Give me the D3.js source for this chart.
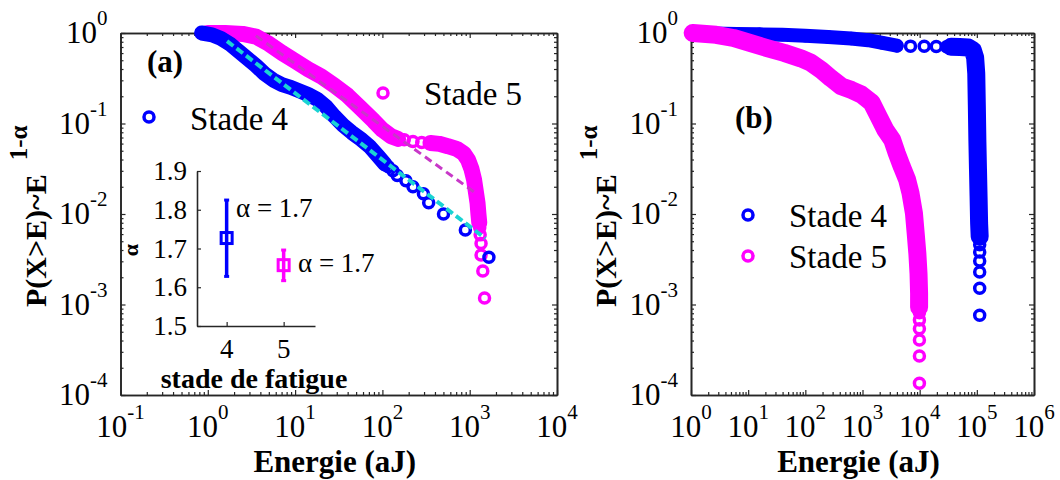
<!DOCTYPE html>
<html><head><meta charset="utf-8">
<script src="https://cdn.jsdelivr.net/npm/d3@7"></script>
<style>body{margin:0;background:#fff} svg{display:block}</style>
</head><body>
<svg id="c" width="1060" height="480"></svg>
<script>
// ---------- DATA ----------
// Panel (a): [Energie (aJ), P(X>E)]
const stade4A_band = [[0.851,1],[1.12,0.955],[1.41,0.871],[1.78,0.759],[2.24,0.631],[2.82,0.525],[3.55,0.437],[4.47,0.355],[5.62,0.302],[7.08,0.269],[8.91,0.251],[11.2,0.229],[14.1,0.209],[17.8,0.186],[22.4,0.155],[28.2,0.120],[35.5,0.0955],[44.7,0.0794],[56.2,0.0676],[70.8,0.0562],[89.1,0.0437],[107,0.0355]];
const stade4A_tail = [[117,0.0333],[132,0.0300],[148,0.0267],[186,0.0233],[224,0.0200],[295,0.0167],[339,0.0133],[501,0.0100],[891,0.00667],[1660,0.00333]];
const stade5A_band = [[1.0,1.0],[1.58,1.0],[2.51,0.977],[3.55,0.912],[5.01,0.759],[7.08,0.603],[10.0,0.490],[14.1,0.398],[20.0,0.331],[28.2,0.263],[39.8,0.204],[56.2,0.148],[79.4,0.107],[100,0.0851],[126,0.0724],[151,0.0676]];
const stade5A_plateau = [[178,0.0661],[224,0.0631],[282,0.0617]];
const stade5A_band2 = [[355,0.0610],[447,0.0596],[562,0.0562],[708,0.0525],[851,0.0468],[955,0.0398],[1047,0.0316],[1122,0.0240],[1175,0.0178],[1230,0.0132],[1259,0.0100],[1288,0.00794]];
const stade5A_tail = [[1303,0.00706],[1318,0.00588],[1349,0.00471],[1349,0.00353],[1413,0.00235],[1479,0.00118]];
const fit4A = [[1.66,0.813],[1514,0.00537]];
const fit5A = [[3.55,0.933],[1175,0.0170]];

// Panel (b)
const stade4B_band = [[1.07,1.0],[2.51,0.989],[6.31,0.977],[15.8,0.966],[39.8,0.955],[100,0.933],[251,0.902],[631,0.871],[1259,0.832],[2239,0.776],[3981,0.724]];
const stade4B_mid = [[6918,0.716],[12020,0.713],[19500,0.710],[29510,0.706]];
const stade4B_band2 = [[35480,0.705],[50120,0.700],[70790,0.692],[85110,0.646],[93330,0.537],[97720,0.355],[100000,0.158],[102300,0.0631],[104700,0.0316],[107200,0.0158],[109600,0.00794],[112200,0.00562]];
const stade4B_tail = [[112200,0.00457],[112200,0.00380],[112200,0.00302],[112200,0.00229],[112200,0.00151],[112200,0.000759]];
const stade5B_band = [[1.07,1.0],[2.75,0.955],[5.50,0.881],[10.7,0.776],[21.4,0.682],[42.7,0.603],[83.2,0.525],[126,0.468],[191,0.389],[282,0.316],[427,0.257],[646,0.234],[955,0.209],[1445,0.170],[1905,0.120],[2512,0.0851],[3311,0.0661],[3981,0.0468],[4898,0.0331],[6026,0.0240],[6918,0.0170],[7943,0.0102],[8511,0.00617],[9120,0.00363],[9550,0.00219],[9772,0.00132],[9772,0.000933]];
const stade5B_tail = [[9900,0.000811],[9900,0.000676],[9900,0.000540],[9900,0.000405],[9900,0.000270],[9900,0.000135]];

// Inset: alpha vs stade de fatigue
const insetStade = [4, 5];
const insetAlpha = [1.727, 1.657];
const insetLow = [1.628, 1.617];
const insetHigh = [1.825, 1.696];
const insetLabels = ["\u03b1 = 1.7", "\u03b1 = 1.7"];
const insetYTicks = [1.5, 1.6, 1.7, 1.8, 1.9];
const insetXTicks = [4, 5];

// Tick labels
const xTicksA = [0.1, 1, 10, 100, 1000, 10000];
const xExpA = ["-1", "0", "1", "2", "3", "4"];
const xTicksB = [1, 10, 100, 1000, 1e4, 1e5, 1e6];
const xExpB = ["0", "1", "2", "3", "4", "5", "6"];
const yTicks = [1, 0.1, 0.01, 0.001, 0.0001];
const yExp = ["0", "-1", "-2", "-3", "-4"];
const legendNames = ["Stade 4", "Stade 5"];

// ---------- DRAWING ----------
const svg = d3.select("#c");
const FONT = "'Liberation Serif','Times New Roman',serif";
const BLUE = "#0000ff", MAG = "#ff00ff", CYAN = "#1ad3d3", AX = "#262626";
const MR = 5, MW = 3.5;

function minorVals(lo, hi) {
  const out = [];
  for (let e = Math.round(Math.log10(lo)); e < Math.round(Math.log10(hi)); e++)
    for (let k = 2; k < 10; k++) out.push(k * Math.pow(10, e));
  return out;
}

function makePanel(cfg) {
  const x = d3.scaleLog().domain(cfg.xDomain).range([cfg.x0, cfg.x1]);
  const y = d3.scaleLog().domain([1e-4, 1]).range([cfg.y1, cfg.y0]);
  const g = svg.append("g");
  const xm = minorVals(cfg.xDomain[0], cfg.xDomain[1]);
  const ym = minorVals(1e-4, 1);
  const axes = [
    [d3.axisBottom(x), `translate(0,${cfg.y1})`, cfg.xTicks, xm],
    [d3.axisTop(x), `translate(0,${cfg.y0})`, cfg.xTicks, xm],
    [d3.axisLeft(y), `translate(${cfg.x0},0)`, yTicks, ym],
    [d3.axisRight(y), `translate(${cfg.x1},0)`, yTicks, ym]
  ];
  axes.forEach(([ax, tr, maj, min]) => {
    const a1 = g.append("g").attr("transform", tr)
      .call(ax.tickValues(maj).tickSize(-5).tickSizeOuter(0).tickFormat(""));
    const a2 = g.append("g").attr("transform", tr)
      .call(ax.tickValues(min).tickSize(-3).tickSizeOuter(0).tickFormat(""));
    [a1, a2].forEach(a => {
      a.selectAll("path.domain").attr("stroke", AX).attr("stroke-width", 1.6);
      a.selectAll("line").attr("stroke", AX).attr("stroke-width", 1.2);
    });
  });
  cfg.xTicks.forEach((v, i) => {
    const t = g.append("text").attr("y", 437).attr("font-family", FONT)
      .attr("font-size", 31).attr("fill", "#000");
    t.append("tspan").text("10");
    t.append("tspan").attr("dy", -18).attr("font-size", 21).text(cfg.xExp[i]);
    const w = t.node().getComputedTextLength();
    t.attr("x", x(v) - w / 2);
  });
  yTicks.forEach((v, i) => {
    const t = g.append("text").attr("y", y(v) + 10).attr("font-family", FONT)
      .attr("font-size", 31).attr("fill", "#000");
    t.append("tspan").text("10");
    t.append("tspan").attr("dy", -18).attr("font-size", 21).text(yExp[i]);
    const w = t.node().getComputedTextLength();
    t.attr("x", cfg.x0 - 13 - w);
  });
  g.append("text").attr("x", (cfg.x0 + cfg.x1) / 2 - 4).attr("y", 472)
    .attr("text-anchor", "middle").attr("font-family", FONT).attr("font-weight", "bold")
    .attr("font-size", 31).text("Energie (aJ)");
  const yl = g.append("text").attr("transform", `translate(${cfg.x0 - 75},307) rotate(-90)`)
    .attr("font-family", FONT).attr("font-weight", "bold").attr("font-size", 30);
  yl.append("tspan").text("P(X>E)~E");
  yl.append("tspan").attr("dx", 14).attr("dy", -19).attr("font-size", 25).text("1-\u03b1");
  return {g, x, y};
}

function drawSeries(p, bands, widths, pts, color) {
  const line = d3.line().x(d => p.x(d[0])).y(d => p.y(d[1]));
  bands.forEach((b, i) => {
    p.g.append("path").attr("d", line(b)).attr("fill", "none").attr("stroke", color)
      .attr("stroke-width", widths[i]).attr("stroke-linecap", "round").attr("stroke-linejoin", "round");
  });
  p.g.append("g").selectAll("circle").data(pts).enter().append("circle")
    .attr("cx", d => p.x(d[0])).attr("cy", d => p.y(d[1])).attr("r", MR)
    .attr("fill", "none").attr("stroke", color).attr("stroke-width", MW);
}

function drawFit(p, pts, color, dash, w) {
  const line = d3.line().x(d => p.x(d[0])).y(d => p.y(d[1]));
  p.g.append("path").attr("d", line(pts)).attr("fill", "none").attr("stroke", color)
    .attr("stroke-width", w).attr("stroke-dasharray", dash);
}

function legendItem(g, cx, cy, color, label, tx, ty) {
  g.append("circle").attr("cx", cx).attr("cy", cy).attr("r", MR)
    .attr("fill", "none").attr("stroke", color).attr("stroke-width", MW);
  g.append("text").attr("x", tx).attr("y", ty).attr("font-family", FONT)
    .attr("font-size", 33).attr("fill", "#000").text(label);
}

// ---- Panel (a)
const pa = makePanel({x0: 120.5, x1: 557, y0: 33, y1: 395, xDomain: [0.1, 10000], xTicks: xTicksA, xExp: xExpA});
drawSeries(pa, [stade5A_band, stade5A_band2], [16, 16], stade5A_band.concat(stade5A_plateau, stade5A_band2, stade5A_tail), MAG);
drawSeries(pa, [stade4A_band], [15], stade4A_band.concat(stade4A_tail), BLUE);
drawFit(pa, fit5A, "#c838c8", "8,5", 3);
drawFit(pa, fit4A, CYAN, "8,4", 4);
pa.g.append("text").attr("x", 147).attr("y", 72).attr("font-family", FONT)
  .attr("font-weight", "bold").attr("font-size", 31).text("(a)");
legendItem(pa.g, 149, 117, BLUE, legendNames[0], 190, 130);
legendItem(pa.g, 383, 93, MAG, legendNames[1], 424, 105);

// Inset
const ix = d3.scaleLinear().domain([3.48, 5.55]).range([197, 315]);
const iy = d3.scaleLinear().domain([1.5, 1.9]).range([326, 171]);
const ig = pa.g.append("g");
ig.append("g").attr("transform", "translate(0,326)")
  .call(d3.axisBottom(ix).tickValues(insetXTicks).tickSize(-4).tickSizeOuter(0).tickFormat(""));
ig.append("g").attr("transform", "translate(197,0)")
  .call(d3.axisLeft(iy).tickValues(insetYTicks).tickSize(-4).tickSizeOuter(0).tickFormat(""));
ig.selectAll("path.domain").attr("stroke", AX).attr("stroke-width", 1.6);
ig.selectAll("line").attr("stroke", AX).attr("stroke-width", 1.2);
insetYTicks.forEach(v => {
  ig.append("text").attr("x", 187).attr("y", iy(v) + 9).attr("text-anchor", "end")
    .attr("font-family", FONT).attr("font-size", 27).text(v.toFixed(1));
});
insetXTicks.forEach(v => {
  ig.append("text").attr("x", ix(v)).attr("y", 358).attr("text-anchor", "middle")
    .attr("font-family", FONT).attr("font-size", 27).text(v);
});
ig.append("text").attr("x", 254).attr("y", 388).attr("text-anchor", "middle")
  .attr("font-family", FONT).attr("font-weight", "bold").attr("font-size", 28).text("stade de fatigue");
ig.append("text").attr("transform", "translate(138,250) rotate(-90)").attr("text-anchor", "middle")
  .attr("font-family", FONT).attr("font-weight", "bold").attr("font-size", 22).text("\u03b1");
const icol = [BLUE, MAG];
insetStade.forEach((s, i) => {
  const cx = ix(s);
  ig.append("line").attr("x1", cx).attr("x2", cx).attr("y1", iy(insetLow[i])).attr("y2", iy(insetHigh[i]))
    .attr("stroke", icol[i]).attr("stroke-width", 3.5);
  [insetLow[i], insetHigh[i]].forEach(v => {
    ig.append("line").attr("x1", cx - 2.5).attr("x2", cx + 2.5).attr("y1", iy(v)).attr("y2", iy(v))
      .attr("stroke", icol[i]).attr("stroke-width", 3);
  });
  ig.append("rect").attr("x", cx - 5.5).attr("y", iy(insetAlpha[i]) - 5.5).attr("width", 11).attr("height", 11)
    .attr("fill", "none").attr("stroke", icol[i]).attr("stroke-width", 3);
});
ig.append("text").attr("x", 236).attr("y", 217).attr("font-family", FONT).attr("font-size", 27).text(insetLabels[0]);
ig.append("text").attr("x", 298).attr("y", 272).attr("font-family", FONT).attr("font-size", 27).text(insetLabels[1]);

// ---- Panel (b)
const pb = makePanel({x0: 691, x1: 1034, y0: 33, y1: 395, xDomain: [1, 1e6], xTicks: xTicksB, xExp: xExpB});
drawSeries(pb, [stade4B_band, stade4B_band2], [14, 18], stade4B_band.concat(stade4B_mid, stade4B_band2, stade4B_tail), BLUE);
drawSeries(pb, [stade5B_band], [18], stade5B_band.concat(stade5B_tail), MAG);
pb.g.append("text").attr("x", 735).attr("y", 128).attr("font-family", FONT)
  .attr("font-weight", "bold").attr("font-size", 31).text("(b)");
legendItem(pb.g, 748, 215, BLUE, legendNames[0], 789, 227);
legendItem(pb.g, 748, 256, MAG, legendNames[1], 789, 268);
</script>
</body></html>
